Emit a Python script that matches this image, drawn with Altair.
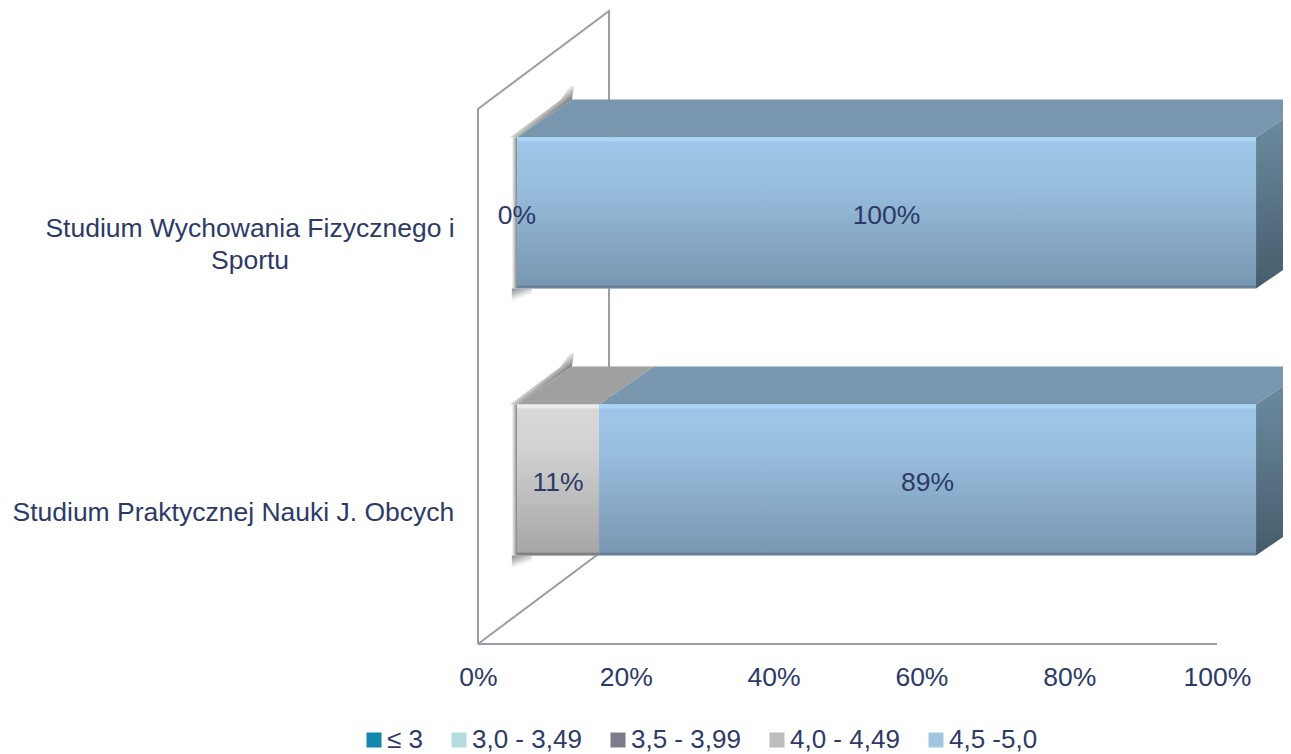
import altair as alt
import pandas as pd

categories = ["Studium Praktycznej Nauki J. Obcych", "Studium Wychowania Fizycznego i\nSportu"]
series = ["≤ 3", "3,0 - 3,49", "3,5 - 3,99", "4,0 - 4,49", "4,5 -5,0"]
legend_colors = ["#1487ad", "#b5dbe0", "#7c7c88", "#bdbdbd", "#9fc6de"]
values_4_0 = [11.1, 0.0]
values_4_5 = [88.9, 100.0]
tick_values = [0, 20, 40, 60, 80, 100]

# layout, in chart units (x: percent, y: category spacing)
W, H = 1275, 746
X_DOMAIN = [-63.6, 108.93]
Y_DOMAIN = [-0.412, 2.382]
ROW_CENTERS = [0.614, 1.614]
BAR_H = 0.5655
BAR_SHIFT = 5.28       # front face starts this far right of the 0% wall corner
DEPTH_X, DEPTH_Y = 7.44, 0.1423
WALL_DX, WALL_DY, WALL_H = 17.73, 0.367, 2.004
LABEL_X = [-33.1, -30.85]
LABEL_DY = [-0.123, -0.0615]
VALUE_DY = 3
TEXT = "#2d3a66"
LINE = "#9b9bab"
FONT = "Liberation Sans"
FS = 26.5

xs = alt.Scale(domain=X_DOMAIN, nice=False, zero=False)
ys = alt.Scale(domain=Y_DOMAIN, nice=False, zero=False)
xaxis = alt.Axis(values=tick_values, labelExpr="datum.value + '%'", title=None, grid=False,
                 domain=False, ticks=False, offset=-110, labelPadding=20, labelFontSize=FS,
                 labelColor=TEXT, labelFont=FONT, labelFlush=False, labelOverlap=False)
X = lambda f="x": alt.X(f"{f}:Q", scale=xs, axis=xaxis)
Y = lambda f="y": alt.Y(f"{f}:Q", scale=ys, axis=None)

segs = []
for i, c in enumerate(categories):
    start = BAR_SHIFT
    for s, v in zip(series, [0, 0, 0, values_4_0[i], values_4_5[i]]):
        segs.append(dict(cat=c, row=i, series=s, value=v, x0=start, x1=start + v,
                         mid=start + v / 2, yc=ROW_CENTERS[i],
                         y0=ROW_CENTERS[i] - BAR_H / 2, y1=ROW_CENTERS[i] + BAR_H / 2,
                         label=f"{v:.0f}%"))
        start += v
segs = pd.DataFrame(segs)


def grad(stops, x2=0, y2=1):
    return alt.Gradient(gradient="linear", x1=0, y1=0, x2=x2, y2=y2,
                        stops=[alt.GradientStop(offset=o, color=c) for o, c in stops])


# wall and floor
wall_pts = [(0, 0), (0, WALL_H), (WALL_DX, WALL_H + WALL_DY), (WALL_DX, WALL_DY), (0, 0)]
wall = pd.DataFrame([dict(i=i, x=p[0], y=p[1]) for i, p in enumerate(wall_pts)])
floor = pd.DataFrame({"x": [0, 100], "y": [0, 0], "i": [0, 1]})
wall_l = alt.Chart(wall).mark_line(color=LINE, strokeWidth=2, clip=True).encode(x=X(), y=Y(), order="i:Q")
floor_l = alt.Chart(floor).mark_line(color=LINE, strokeWidth=2, clip=True).encode(x=X(), y=Y(), order="i:Q")

# soft shadows on the wall side
rows = segs[segs.series == series[-1]]
sh_left, sh_under, sh_diag = [], [], []
SW = 0.7
for _, r in rows.iterrows():
    b = BAR_SHIFT
    sh_left.append(dict(x=b - SW, x2=b, y=r.y0, y2=r.y1))
    sh_under.append(dict(x=b - SW, x2=b + 2.0, y=r.y0 - 0.055, y2=r.y0))
    sh_diag.append(dict(bar=r.row, x=b - 1.0, x2=b, y=r.y1))
    sh_diag.append(dict(bar=r.row, x=b + DEPTH_X - 1.5, x2=b + DEPTH_X, y=r.y1 + DEPTH_Y))
    sh_diag.append(dict(bar=r.row, x=b + DEPTH_X - 0.3, x2=b + DEPTH_X + 0.25, y=r.y1 + DEPTH_Y + 0.05))
shadow_gray = "#858585"
sl = alt.Chart(pd.DataFrame(sh_left)).mark_rect(
    color=grad([(0, "#ffffff"), (1, shadow_gray)], x2=1, y2=0)).encode(x=X(), x2="x2:Q", y=Y(), y2="y2:Q")
su = alt.Chart(pd.DataFrame(sh_under)).mark_rect(
    color=grad([(0, "#8a8a8a"), (0.7, "#ffffff"), (1, "#ffffff")], x2=0.5, y2=1)).encode(x=X(), x2="x2:Q", y=Y(), y2="y2:Q")
sd = alt.Chart(pd.DataFrame(sh_diag)).mark_area(
    orient="horizontal",
    color=grad([(0, "#ffffff"), (0.46, "#ffffff"), (0.6, shadow_gray), (1, shadow_gray)], x2=1, y2=1)
).encode(x=X(), x2="x2:Q", y=Y(), detail="bar:N")

# top faces
def top_layer(name, color):
    pts = []
    for _, r in segs[(segs.series == name) & (segs.value > 0)].iterrows():
        pts.append(dict(bar=r.row, y=r.y1, x=r.x0, x2=r.x1))
        pts.append(dict(bar=r.row, y=r.y1 + DEPTH_Y, x=r.x0 + DEPTH_X, x2=r.x1 + DEPTH_X))
    return alt.Chart(pd.DataFrame(pts)).mark_area(orient="horizontal", color=color, clip=True).encode(
        x=X(), x2="x2:Q", y=Y(), detail="bar:N")

top_gray = top_layer(series[3], "#a0a0a0")
top_blue = top_layer(series[4], "#7897ae")

# right side faces
side_pts = []
for _, r in rows.iterrows():
    side_pts.append(dict(bar=r.row, x=r.x1, y=r.y0, y2=r.y1))
    side_pts.append(dict(bar=r.row, x=r.x1 + DEPTH_X, y=r.y0 + DEPTH_Y, y2=r.y1 + DEPTH_Y))
side = alt.Chart(pd.DataFrame(side_pts)).mark_area(
    clip=True, color=grad([(0, "#7090a6"), (1, "#465c6b")])
).encode(x=X(), y=Y(), y2="y2:Q", detail="bar:N")

# legend-bearing flat segments
base = alt.Chart(segs).mark_rect(clip=True).encode(
    x=X("x0"), x2="x1:Q", y=Y("y0"), y2="y1:Q",
    color=alt.Color("series:N", scale=alt.Scale(domain=series, range=legend_colors), title=None,
                    sort=series,
                    legend=alt.Legend(orient="none", legendX=353, legendY=719, direction="horizontal",
                                      columns=5, symbolType="square", symbolSize=225,
                                      symbolStrokeWidth=0, labelFont=FONT, labelFontSize=26,
                                      labelColor=TEXT, labelOffset=0, columnPadding=23,
                                      labelLimit=300, title=None)))

# gradient front faces
front_blue = alt.Chart(segs[(segs.series == series[4]) & (segs.value > 0)]).mark_rect(
    color=grad([(0, "#a9d6f8"), (0.02, "#a9d6f8"), (0.03, "#9fc6e8"), (0.3, "#99bfdf"),
                (0.975, "#7897b2"), (0.99, "#5f7a92"), (1, "#8d96a6")])
).encode(x=X("x0"), x2="x1:Q", y=Y("y0"), y2="y1:Q")
front_gray = alt.Chart(segs[(segs.series == series[3]) & (segs.value > 0)]).mark_rect(
    color=grad([(0, "#ececec"), (0.02, "#ececec"), (0.03, "#d8d8d8"), (0.3, "#d2d2d2"),
                (0.975, "#a6a6a6"), (0.99, "#777777"), (1, "#8d8d8d")])
).encode(x=X("x0"), x2="x1:Q", y=Y("y0"), y2="y1:Q")

# value labels
lab = segs[segs.series.isin(series[3:])]
val_text = alt.Chart(lab).mark_text(font=FONT, fontSize=FS, color=TEXT, baseline="middle", dy=VALUE_DY).encode(
    x=X("mid"), y=Y("yc"), text="label:N")

# category labels
cat_df = pd.DataFrame({"cat": categories, "x": LABEL_X,
                       "y": [c + d for c, d in zip(ROW_CENTERS, LABEL_DY)]})
cat_text = alt.Chart(cat_df).mark_text(font=FONT, fontSize=FS, color=TEXT, align="center",
                                       baseline="middle", lineBreak="\n", lineHeight=32).encode(
    x=X(), y=Y(), text="cat:N")

chart = alt.layer(wall_l, floor_l, sl, su, sd, top_gray, top_blue, side, base,
                  front_gray, front_blue, val_text, cat_text).properties(
    width=W, height=H, autosize=alt.AutoSizeParams(type="none"), padding=0
).configure_view(stroke=None)

chart.save("out.html", embed_options={"renderer": "svg", "actions": False})
